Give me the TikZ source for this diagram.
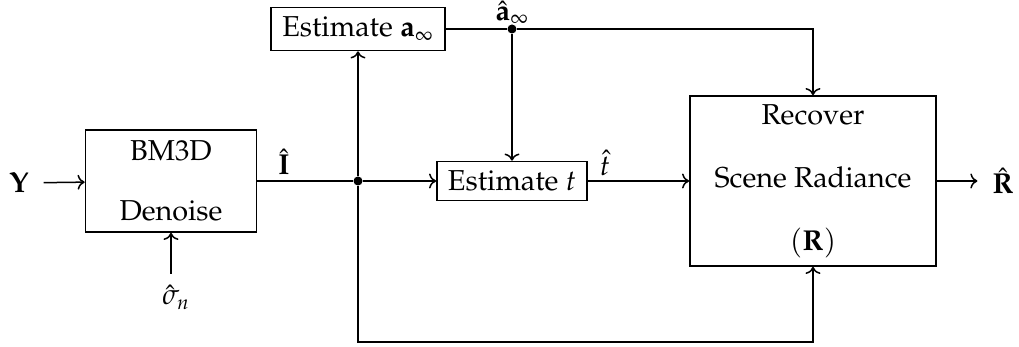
\documentclass[tikz,border=0pt]{standalone}
\usepackage{amsmath,amssymb}
\usepackage[T1]{fontenc}
\usepackage{mathpazo}
\usetikzlibrary{arrows.meta, positioning, calc}

\begin{document}
\begin{tikzpicture}[x=0.5pt, y=-0.5pt, >={To[scale=1.1]}, line width=0.75pt, font=\Large,
  blockbox/.style={draw, line width=0.8pt, align=center, inner sep=0pt},
  jdot/.style={circle, fill, inner sep=0pt, minimum size=4.5pt}]

\useasboundingbox (0,0) rectangle (1019,347);

% --- Blocks ---
\node[blockbox, minimum width=85.5pt, minimum height=51pt] (bm3d) at (171,181)
  {BM3D\\[12pt] Denoise};
\node[blockbox, minimum width=87pt, minimum height=21.5pt] (esta) at (358,29)
  {Estimate $\mathbf{a}_\infty$};
\node[blockbox, minimum width=75pt, minimum height=19.5pt] (estt) at (512,181)
  {Estimate $t$};
\node[blockbox, minimum width=123pt, minimum height=85pt] (rec) at (813,181)
  {Recover\\[13.5pt] Scene Radiance\\[13.5pt] $(\mathbf{R})$};

% --- Signals ---
\node[inner sep=1pt] (lblY) at (19,183) {$\mathbf{Y}$};
\node[inner sep=1pt] (lblR) at (1003,181) {$\hat{\mathbf{R}}$};
\node[inner sep=1pt] (lblI) at (284,162) {$\hat{\mathbf{I}}$};
\node[inner sep=1pt] (lblsig) at (176,297) {$\hat{\sigma}_n$};
\node[inner sep=1pt] (lbla) at (512,13) {$\hat{\mathbf{a}}_\infty$};
\node[inner sep=1pt] (lblt) at (605,163) {$\hat{t}$};

% --- Junctions ---
\node[jdot] (j1) at (358,181) {};
\node[jdot] (j2) at (512,29) {};
\coordinate (fb) at (358,342);

% --- Connectors ---
\draw[->, shorten <=6pt] (lblY) -- (bm3d);
\draw[->, shorten <=4pt] (lblsig.north -| bm3d) -- (bm3d);
\draw (bm3d) -- (j1);
\draw[->] (j1) -- (esta);
\draw[->] (j1) -- (estt);
\draw (esta) -- (j2);
\draw[->] (j2) -| (rec);
\draw[->] (j2) -- (estt);
\draw[->] (estt) -- (rec);
\draw[->, shorten >=6pt] (rec) -- (lblR);
\draw[->] (j1) -- (fb) -| (rec);

\end{tikzpicture}
\end{document}
